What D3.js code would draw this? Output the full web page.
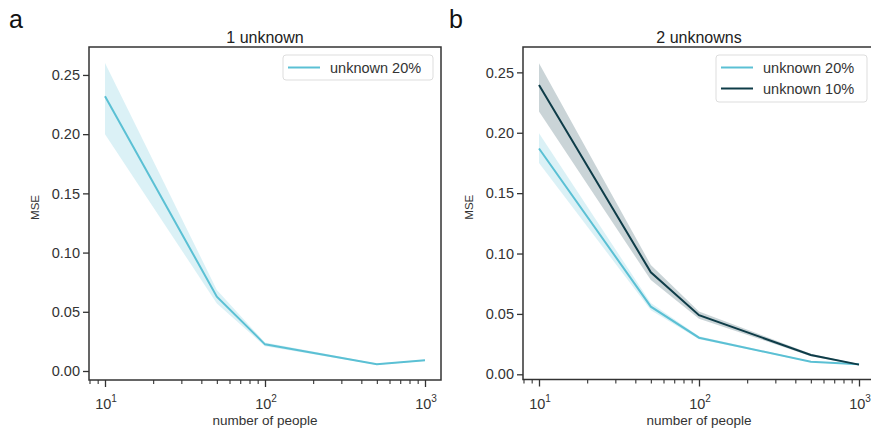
<!DOCTYPE html>
<html><head><meta charset="utf-8">
<script src="https://cdn.jsdelivr.net/npm/d3@7"></script>
<style>
body{margin:0;background:#fff;}
svg{display:block;font-family:"Liberation Sans",Arial,sans-serif;}
</style></head>
<body><svg id="c" width="871" height="430"></svg>
<script>
const people = [10, 50, 100, 500, 1000];
// panel a: 1 unknown, unknown 20%
const a20Mean = [0.232, 0.0628, 0.0225, 0.0058, 0.0090];
const a20Lo   = [0.200, 0.0570, 0.0210, 0.0052, 0.0084];
const a20Hi   = [0.260, 0.0685, 0.0240, 0.0064, 0.0096];
// panel b: 2 unknowns
const b20Mean = [0.187, 0.0560, 0.0303, 0.0104, 0.0083];
const b20Lo   = [0.175, 0.0530, 0.0290, 0.0100, 0.0080];
const b20Hi   = [0.1995, 0.0590, 0.0316, 0.0108, 0.0086];
const b10Mean = [0.2395, 0.0844, 0.0490, 0.0160, 0.0080];
const b10Lo   = [0.2175, 0.0780, 0.0460, 0.0150, 0.0076];
const b10Hi   = [0.2575, 0.0905, 0.0520, 0.0170, 0.0084];
const yTicks = [0.00, 0.05, 0.10, 0.15, 0.20, 0.25];
const xTicks = [10, 100, 1000];

const LIGHT = "#5bc0d4", DARK = "#0e3c48";
const svg = d3.select("#c");

function panel(opt){
  const g = svg.append("g");
  const x = d3.scaleLog().domain([Math.pow(10,0.9), Math.pow(10,3.1)]).range([opt.left, opt.right]);
  const y = d3.scaleLinear().domain(opt.ydom).range([opt.bottom, opt.top]);
  opt.series.forEach(s=>{
    const area = d3.area().x((d,i)=>x(people[i])).y0((d,i)=>y(s.lo[i])).y1((d,i)=>y(s.hi[i]));
    g.append("path").attr("d", area(people)).attr("fill", s.color).attr("fill-opacity", 0.22).attr("stroke","none");
  });
  opt.series.forEach(s=>{
    const line = d3.line().x((d,i)=>x(people[i])).y((d,i)=>y(s.mean[i]));
    g.append("path").attr("d", line(people)).attr("fill","none").attr("stroke", s.color).attr("stroke-width", 2);
  });
  g.append("rect").attr("x", opt.left).attr("y", opt.top).attr("width", opt.right-opt.left).attr("height", opt.bottom-opt.top)
    .attr("fill","none").attr("stroke","#333").attr("stroke-width",1.5);
  const ya = g.append("g").attr("transform", `translate(${opt.left},0)`)
    .call(d3.axisLeft(y).tickValues(yTicks).tickFormat(d3.format(".2f")).tickSize(6).tickPadding(3));
  ya.select(".domain").remove();
  ya.selectAll("line").attr("stroke","#333").attr("stroke-width",1.3);
  ya.selectAll("text").attr("font-size", 14.5).attr("fill","#333").attr("font-family","Liberation Sans, Arial, sans-serif");
  const minor = [];
  for (let k=0;k<4;k++) for (let m=2;m<10;m++){ const v=m*Math.pow(10,k); if (v>=x.domain()[0] && v<=x.domain()[1]) minor.push(v); }
  const xm = g.append("g").attr("transform", `translate(0,${opt.bottom})`)
    .call(d3.axisBottom(x).tickValues(minor).tickFormat("").tickSize(4));
  xm.select(".domain").remove();
  xm.selectAll("line").attr("stroke","#333").attr("stroke-width",1.1);
  const xa = g.append("g").attr("transform", `translate(0,${opt.bottom})`)
    .call(d3.axisBottom(x).tickValues(xTicks).tickFormat("").tickSize(7));
  xa.select(".domain").remove();
  xa.selectAll("line").attr("stroke","#333").attr("stroke-width",1.3);
  xTicks.forEach(v=>{
    const t = g.append("text").attr("x", x(v)+1).attr("y", opt.bottom+29).attr("text-anchor","middle")
      .attr("font-size",14.5).attr("fill","#333");
    t.append("tspan").text("10");
    t.append("tspan").text(Math.round(Math.log10(v))).attr("font-size",10).attr("dy",-7);
  });
  g.append("text").attr("x",opt.left+176).attr("y",opt.bottom+45).attr("text-anchor","middle")
    .attr("font-size",13.5).attr("fill","#333").text("number of people");
  g.append("text").attr("transform",`translate(${opt.left-50},${(opt.top+opt.bottom)/2-6}) rotate(-90)`).attr("text-anchor","middle")
    .attr("font-size",11.5).attr("fill","#333").text("MSE");
  g.append("text").attr("x",opt.titleX).attr("y",43).attr("text-anchor","middle")
    .attr("font-size",16).attr("fill","#222").text(opt.title);
  g.append("text").attr("x",opt.letterX).attr("y",28).attr("font-size",25).attr("fill","#111").text(opt.letter);
  const L = opt.legend;
  g.append("rect").attr("x",L.x).attr("y",L.y).attr("width",L.w).attr("height",L.h).attr("rx",3)
    .attr("fill","#fff").attr("stroke","#ddd").attr("stroke-width",1);
  opt.series.forEach((s,i)=>{
    const yy = L.y + 12.5 + i*21;
    g.append("line").attr("x1",L.x+5).attr("x2",L.x+37).attr("y1",yy).attr("y2",yy).attr("stroke",s.color).attr("stroke-width",2);
    g.append("text").attr("x",L.x+47).attr("y",yy+5).attr("font-size",14.5).attr("fill","#333").text(s.name);
  });
}

panel({left:89,right:441,top:47,bottom:380,ydom:[-0.0076,0.2736],title:"1 unknown",titleX:265,letter:"a",letterX:9,
  legend:{x:283,y:55,w:150,h:25},
  series:[{name:"unknown 20%",color:LIGHT,mean:a20Mean,lo:a20Lo,hi:a20Hi}]});
panel({left:523,right:875,top:47,bottom:379.5,ydom:[-0.0043,0.271],title:"2 unknowns",titleX:699,letter:"b",letterX:449,
  legend:{x:716,y:55,w:151,h:47},
  series:[{name:"unknown 20%",color:LIGHT,mean:b20Mean,lo:b20Lo,hi:b20Hi},
          {name:"unknown 10%",color:DARK,mean:b10Mean,lo:b10Lo,hi:b10Hi}]});
</script></body></html>
